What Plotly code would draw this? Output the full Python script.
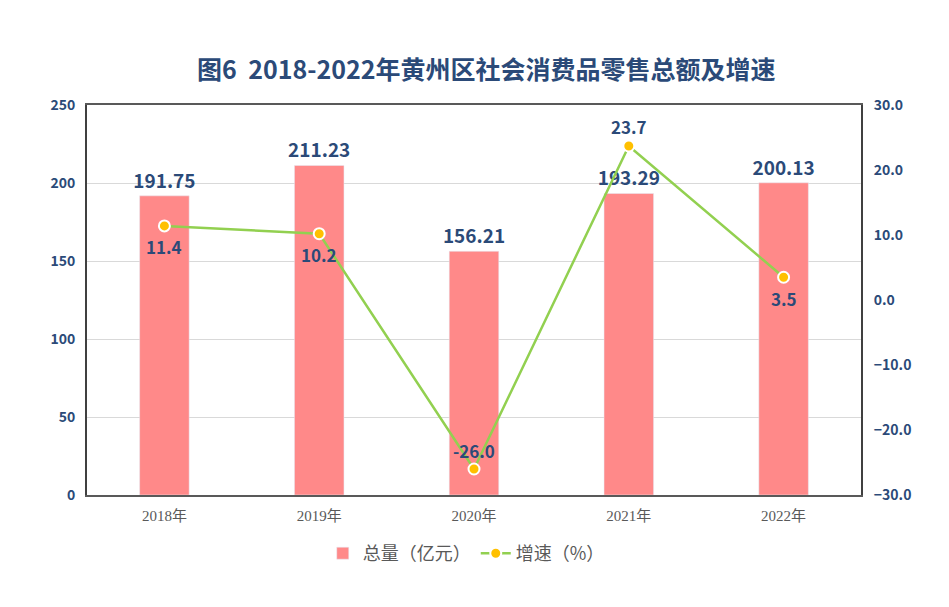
import plotly.graph_objects as go

# 数据
years = ["2018年", "2019年", "2020年", "2021年", "2022年"]
total = [191.75, 211.23, 156.21, 193.29, 200.13]
growth = [11.4, 10.2, -26.0, 23.7, 3.5]
label_below = [True, True, False, False, True]

navy = "#2B4A78"
font_cn = "Noto Sans CJK SC"

fig = go.Figure()

fig.add_trace(go.Bar(
    x=years, y=total, name="总量（亿元）",
    marker=dict(color="#FF8989"),
    width=0.32,
    text=[f"{v:.2f}" for v in total],
    textposition="outside",
    constraintext="none",
    textfont=dict(family=font_cn, size=19, color=navy, weight="bold"),
    cliponaxis=False,
))

fig.add_trace(go.Scatter(
    x=years, y=growth, name="增速（%）", yaxis="y2",
    mode="lines+markers",
    line=dict(color="#92D050", width=2.5),
    marker=dict(color="#FFC000", size=11, line=dict(color="white", width=2)),
    cliponaxis=False,
))

# 增速数据标签
for yr, g, below in zip(years, growth, label_below):
    fig.add_annotation(
        x=yr, y=g, xref="x", yref="y2",
        text=f"<b>{g:.1f}</b>", showarrow=False,
        yshift=-21 if below else 19,
        font=dict(family=font_cn, size=17, color=navy),
    )

fig.update_layout(
    width=949, height=607,
    paper_bgcolor="white", plot_bgcolor="white",
    margin=dict(l=79, r=96, t=97, b=120, autoexpand=False),
    title=dict(
        text="<b>图6  2018-2022年黄州区社会消费品零售总额及增速</b>",
        x=0.504, xanchor="center", y=0.898, yanchor="middle",
        font=dict(family=font_cn, size=25, color=navy),
        automargin=False,
    ),
    showlegend=True,
    legend=dict(
        orientation="h", x=0.49, xanchor="center", y=-0.15, yanchor="middle",
        font=dict(family=font_cn, size=18, color="#595959"),
        traceorder="normal",
    ),
    xaxis=dict(
        automargin=False,
        showline=True, linecolor="#595959", linewidth=1.5, mirror=True,
        ticks="", tickfont=dict(family="Liberation Serif, Noto Sans CJK SC", size=15, color="#595959"),
        ticklabelstandoff=6,
    ),
    yaxis=dict(
        automargin=False,
        range=[0, 250], dtick=50,
        showline=True, linecolor="#404040", linewidth=2,
        showgrid=True, gridcolor="#D9D9D9", gridwidth=1,
        zeroline=False, ticks="",
        tickfont=dict(family=font_cn, size=14, color=navy, weight="bold"),
        ticklabelstandoff=7,
    ),
    yaxis2=dict(
        automargin=False,
        overlaying="y", side="right",
        range=[-30, 30], dtick=10, tickformat=".1f",
        showline=True, linecolor="#404040", linewidth=2,
        showgrid=False, zeroline=False, ticks="",
        tickfont=dict(family=font_cn, size=14, color=navy, weight="bold"),
        ticklabelstandoff=8,
    ),
)

fig.write_html("out.html")
